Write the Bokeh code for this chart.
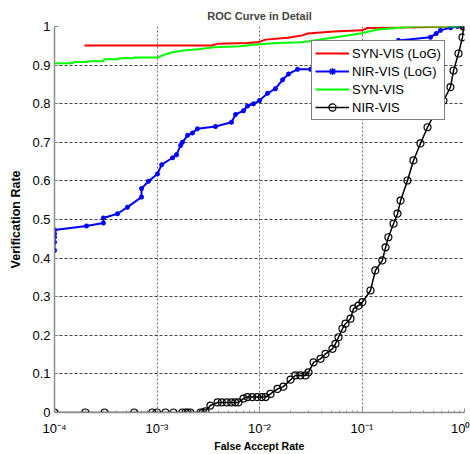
from bokeh.plotting import figure
from bokeh.models import Range1d, FixedTicker, Legend, LegendItem
from bokeh.embed import file_html
from bokeh.resources import INLINE

# ---------------- data ----------------
syn_log_far = [1.96e-4, 3.4e-3, 3.9e-3, 7.64e-3, 9.55e-3, 1.15e-2, 1.88e-2, 2.63e-2,
               2.94e-2, 5.27e-2, 0.10, 0.113, 0.33, 1.0]
syn_log_vr = [0.951, 0.951, 0.955, 0.957, 0.959, 0.966, 0.971, 0.977,
              0.982, 0.987, 0.990, 0.996, 0.998, 1.0]

nir_log_far = [1e-4, 1e-4, 1e-4, 1e-4, 1e-4, 2.05e-4, 3.0e-4, 3.0e-4, 4.12e-4, 5.15e-4,
               7.06e-4, 7.06e-4, 8.26e-4, 1.01e-3, 1.11e-3, 1.42e-3, 1.55e-3, 1.70e-3,
               1.77e-3, 1.99e-3, 2.22e-3, 2.48e-3, 3.72e-3, 5.33e-3, 5.84e-3, 6.98e-3,
               7.64e-3, 8.74e-3, 1.0e-2, 1.20e-2, 1.43e-2, 1.68e-2, 1.92e-2, 2.35e-2,
               3.15e-2, 8.0e-2, 0.15, 0.227, 0.466, 0.53, 0.583, 0.73, 0.855, 1.0]
nir_log_vr = [0.420, 0.441, 0.454, 0.463, 0.473, 0.483, 0.491, 0.504, 0.515, 0.532,
              0.558, 0.580, 0.599, 0.618, 0.642, 0.660, 0.668, 0.692,
              0.700, 0.718, 0.724, 0.735, 0.741, 0.752, 0.772, 0.782,
              0.794, 0.800, 0.808, 0.827, 0.839, 0.862, 0.877, 0.889,
              0.889, 0.920, 0.945, 0.964, 0.972, 0.982, 0.990, 0.997, 1.0, 1.0]

syn_far = [1e-4, 1.5e-4, 1.55e-4, 2.1e-4, 2.15e-4, 3.0e-4, 3.05e-4, 4.2e-4, 4.3e-4,
           5.9e-4, 6.0e-4, 1.0e-3, 1.35e-3, 1.81e-3, 2.66e-3, 3.56e-3, 6.53e-3,
           8.74e-3, 1.5e-2, 2.51e-2, 2.94e-2, 9.67e-2, 0.142, 0.318, 1.0]
syn_vr = [0.905, 0.905, 0.908, 0.908, 0.910, 0.910, 0.915, 0.915, 0.918,
          0.918, 0.920, 0.920, 0.932, 0.938, 0.942, 0.946, 0.949,
          0.953, 0.957, 0.959, 0.961, 0.982, 0.992, 1.0, 1.0]

nir_far = [1e-4, 2.0e-4, 3.08e-4, 6.0e-4, 9.0e-4, 1.0e-3, 1.21e-3, 1.45e-3, 1.77e-3,
           1.9e-3, 1.99e-3, 2.12e-3, 2.66e-3, 2.8e-3, 2.97e-3, 3.32e-3, 3.9e-3,
           4.3e-3, 4.8e-3, 5.3e-3, 5.8e-3, 6.24e-3, 6.98e-3, 7.64e-3, 8.5e-3,
           9.5e-3, 1.05e-2, 1.15e-2, 1.28e-2, 1.5e-2, 1.71e-2, 2.01e-2, 2.24e-2,
           2.5e-2, 2.81e-2, 3.01e-2, 3.37e-2, 3.94e-2, 4.41e-2, 5.15e-2, 5.51e-2,
           5.90e-2, 6.45e-2, 6.90e-2, 7.72e-2, 8.26e-2, 9.25e-2, 0.101, 0.121,
           0.135, 0.158, 0.170, 0.181, 0.203, 0.222, 0.238, 0.278, 0.318, 0.372,
           0.436, 0.499, 0.624, 0.730, 0.782, 0.874, 0.956, 0.978, 1.0]
nir_vr = [0.0, 0.0, 0.0, 0.0, 0.0, 0.0, 0.0, 0.0, 0.0,
          0.0, 0.0, 0.0, 0.0, 0.0, 0.003, 0.018, 0.026,
          0.026, 0.026, 0.026, 0.026, 0.026, 0.036, 0.040, 0.040,
          0.040, 0.040, 0.040, 0.048, 0.061, 0.067, 0.085, 0.096,
          0.096, 0.096, 0.104, 0.130, 0.139, 0.152, 0.165, 0.178,
          0.195, 0.217, 0.230, 0.243, 0.269, 0.277, 0.286, 0.316,
          0.368, 0.394, 0.428, 0.454, 0.489, 0.515, 0.549, 0.601, 0.653, 0.697,
          0.739, 0.769, 0.808, 0.843, 0.886, 0.930, 0.972, 1.0, 1.0]

x_ticks = [1e-4, 1e-3, 1e-2, 1e-1, 1.0]
x_tick_labels = ["10\u207b\u2074", "10\u207b\u00b3", "10\u207b\u00b2", "10\u207b\u00b9", "10\u2070"]
y_ticks = [0, 0.1, 0.2, 0.3, 0.4, 0.5, 0.6, 0.7, 0.8, 0.9, 1.0]
y_tick_labels = ["0", "0.1", "0.2", "0.3", "0.4", "0.5", "0.6", "0.7", "0.8", "0.9", "1"]

FONT = "Liberation Sans"

p = figure(x_axis_type="log", output_backend="svg", toolbar_location=None,
           frame_width=410, frame_height=386,
           min_border_left=54, min_border_right=6, min_border_top=26, min_border_bottom=42,
           x_range=Range1d(1e-4, 1.0), y_range=Range1d(0, 1.0),
           title="ROC Curve in Detail")
p.background_fill_color = "white"
p.border_fill_color = "white"
p.outline_line_color = None

p.title.text_font = FONT
p.title.text_font_size = "11px"
p.title.text_font_style = "bold"
p.title.align = "center"
p.title.offset = 0
p.title.standoff = 9

minor = [m * 10.0 ** e for e in range(-4, 0) for m in range(2, 10)]
p.xaxis.ticker = FixedTicker(ticks=x_ticks, minor_ticks=minor)
p.xaxis.major_label_overrides = {t: l for t, l in zip(x_ticks, x_tick_labels)}
p.yaxis.ticker = FixedTicker(ticks=y_ticks)
p.yaxis.major_label_overrides = {t: l for t, l in zip(y_ticks, y_tick_labels)}

for ax in (p.xaxis, p.yaxis):
    ax.axis_line_color = "#8c8c8c"
    ax.axis_line_width = 1.5
    ax.major_tick_in = 4
    ax.major_tick_out = 0
    ax.minor_tick_in = 2
    ax.minor_tick_out = 0
    ax.major_tick_line_color = "#8c8c8c"
    ax.minor_tick_line_color = "#8c8c8c"
    ax.major_label_text_font = FONT
    ax.major_label_text_font_size = "13px"
    ax.major_label_text_color = "black"
    ax.axis_label_text_font = FONT
    ax.axis_label_text_font_style = "bold"
    ax.axis_label_text_color = "black"
p.yaxis.minor_tick_line_color = None
p.xaxis.major_label_standoff = 8
p.yaxis.major_label_standoff = 4
p.xaxis.axis_label = "False Accept Rate"
p.xaxis.axis_label_text_font_size = "10.5px"
p.xaxis.axis_label_standoff = 1
p.yaxis.axis_label = "Verification Rate"
p.yaxis.axis_label_text_font_size = "12.5px"
p.yaxis.axis_label_standoff = 6

p.xgrid.ticker = FixedTicker(ticks=x_ticks)
p.xgrid.grid_line_color = "#6e6e6e"
p.xgrid.grid_line_dash = "2 2"
p.xgrid.grid_line_width = 1
p.ygrid.grid_line_color = "#444444"
p.ygrid.grid_line_dash = "3 2"
p.ygrid.grid_line_width = 1

r_red = p.line(syn_log_far, syn_log_vr, line_color="#ff0000", line_width=2)
r_blue = p.line(nir_log_far, nir_log_vr, line_color="#0000ff", line_width=2)
s_blue = p.scatter(nir_log_far, nir_log_vr, marker="asterisk", size=5,
                   line_color="#0000ff", line_width=1.5)
r_green = p.line(syn_far, syn_vr, line_color="#00ff00", line_width=2)
r_black = p.line(nir_far, nir_vr, line_color="black", line_width=1.5)
s_black = p.scatter(nir_far, nir_vr, marker="circle", size=7, fill_color=None,
                    line_color="black", line_width=1.2)

legend = Legend(items=[
    LegendItem(label="SYN-VIS (LoG)", renderers=[r_red]),
    LegendItem(label="NIR-VIS (LoG)", renderers=[r_blue, s_blue]),
    LegendItem(label="SYN-VIS", renderers=[r_green]),
    LegendItem(label="NIR-VIS", renderers=[r_black, s_black]),
], location=(257, 292))
legend.label_text_font = FONT
legend.label_text_font_size = "13px"
legend.label_text_color = "black"
legend.glyph_width = 34
legend.glyph_height = 18
legend.label_height = 18
legend.spacing = 0
legend.padding = 3
legend.margin = 0
legend.label_standoff = 3
legend.border_line_color = "black"
legend.border_line_width = 1
legend.background_fill_color = "white"
legend.background_fill_alpha = 1.0
p.add_layout(legend, "center")

open("out.html", "w").write(file_html(p, INLINE))
